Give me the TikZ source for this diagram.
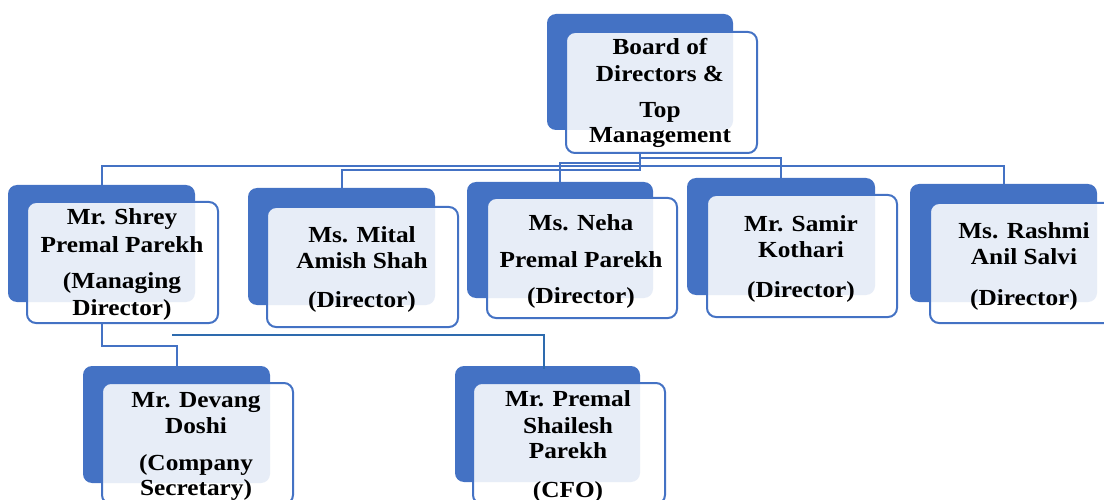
\documentclass[tikz,border=0pt]{standalone}
\usepackage{fontspec}
\setmainfont{Liberation Serif}[FakeStretch=1.1]
\definecolor{bkblue}{HTML}{4472C4}
\definecolor{lineblue}{HTML}{4472C4}
\definecolor{darkline}{HTML}{2E6BAE}
\tikzset{
  back/.style={fill=bkblue, draw=none, rounded corners=9pt, inner sep=0pt},
  front/.style={fill=white, fill opacity=0.875, draw=bkblue, line width=2pt, rounded corners=9pt, inner sep=0pt},
  txt/.style={font=\fontsize{23}{27}\selectfont\bfseries, anchor=base, inner sep=0pt, text=black},
  conn/.style={draw=lineblue, line width=2pt},
  conndark/.style={draw=darkline, line width=2pt}
}
\begin{document}
\begin{tikzpicture}[x=1pt,y=-1pt]
\useasboundingbox (0,0) rectangle (1104,500);
\clip (0,0) rectangle (1104,500);
% boxes: back then front
\node[back, minimum width=186pt, minimum height=116pt] (board-b) at (640,72) {};
\node[front, minimum width=191pt, minimum height=121pt] (board-f) at (661.5,92.5) {};
\node[back, minimum width=187pt, minimum height=117pt] (shrey-b) at (101.5,243.5) {};
\node[front, minimum width=191pt, minimum height=121pt] (shrey-f) at (122.5,262.5) {};
\node[back, minimum width=187pt, minimum height=117pt] (mital-b) at (341.5,246.5) {};
\node[front, minimum width=191pt, minimum height=120pt] (mital-f) at (362.5,267) {};
\node[back, minimum width=186pt, minimum height=116pt] (neha-b) at (560,240) {};
\node[front, minimum width=190pt, minimum height=120pt] (neha-f) at (582,258) {};
\node[back, minimum width=188pt, minimum height=117pt] (samir-b) at (781,236.5) {};
\node[front, minimum width=190pt, minimum height=122pt] (samir-f) at (802,256) {};
\node[back, minimum width=187pt, minimum height=118pt] (rashmi-b) at (1003.5,243) {};
\node[front, minimum width=190pt, minimum height=120pt] (rashmi-f) at (1025,263) {};
\node[back, minimum width=187pt, minimum height=117pt] (devang-b) at (176.5,424.5) {};
\node[front, minimum width=191pt, minimum height=121pt] (devang-f) at (197.5,443.5) {};
\node[back, minimum width=185pt, minimum height=116pt] (premal-b) at (547.5,424) {};
\node[front, minimum width=192pt, minimum height=121pt] (premal-f) at (569,443.5) {};
% texts
\node[txt] (board-t1) at (660,55) {Board of};
\node[txt] (board-t2) at (660,82) {Directors \&};
\node[txt] (board-t3) at (660,118) {Top};
\node[txt] (board-t4) at (660,143) {Management};
\node[txt] (shrey-t1) at (122,225) {Mr. Shrey};
\node[txt] (shrey-t2) at (122,252) {Premal Parekh};
\node[txt] (shrey-t3) at (122,288) {(Managing};
\node[txt] (shrey-t4) at (122,315) {Director)};
\node[txt] (mital-t1) at (362,242) {Ms. Mital};
\node[txt] (mital-t2) at (362,269) {Amish Shah};
\node[txt] (mital-t3) at (362,307) {(Director)};
\node[txt] (neha-t1) at (581,230) {Ms. Neha};
\node[txt] (neha-t2) at (581,267) {Premal Parekh};
\node[txt] (neha-t3) at (581,303) {(Director)};
\node[txt] (samir-t1) at (801,232) {Mr. Samir};
\node[txt] (samir-t2) at (801,258) {Kothari};
\node[txt] (samir-t3) at (801,297) {(Director)};
\node[txt] (rashmi-t1) at (1024,238) {Ms. Rashmi};
\node[txt] (rashmi-t2) at (1024,265) {Anil Salvi};
\node[txt] (rashmi-t3) at (1024,305) {(Director)};
\node[txt] (devang-t1) at (196,407) {Mr. Devang};
\node[txt] (devang-t2) at (196,433) {Doshi};
\node[txt] (devang-t3) at (196,470) {(Company};
\node[txt] (devang-t4) at (196,495) {Secretary)};
\node[txt] (premal-t1) at (568,406) {Mr. Premal};
\node[txt] (premal-t2) at (568,433) {Shailesh};
\node[txt] (premal-t3) at (568,458) {Parekh};
\node[txt] (premal-t4) at (568,497) {(CFO)};
% connectors
\draw[conn] ([xshift=-21.5pt]board-f.south) -- ++(0,12) -| (shrey-b.north);
\draw[conn] ([xshift=-21.5pt]board-f.south) -- ++(0,16) -| ([yshift=-4pt]mital-b.north);
\draw[conn] ([xshift=-21.5pt]board-f.south) -- ++(0,9) -| ([yshift=-4pt]neha-b.north);
\draw[conn] ([xshift=-21.5pt]board-f.south) -- ++(0,4) -| ([yshift=-4pt]samir-b.north);
\draw[conn] ([xshift=-21.5pt]board-f.south) -- ++(0,12) -| ([yshift=-4pt]rashmi-b.north);
\draw[conn] (shrey-b.center |- shrey-f.south) -- ++(0,22) -| ([yshift=-4pt]devang-b.north);
\coordinate (cfofree) at (172,335);
\draw[conndark] (cfofree) -| ([xshift=-4pt,yshift=-3pt]premal-b.north);
\end{tikzpicture}
\end{document}
